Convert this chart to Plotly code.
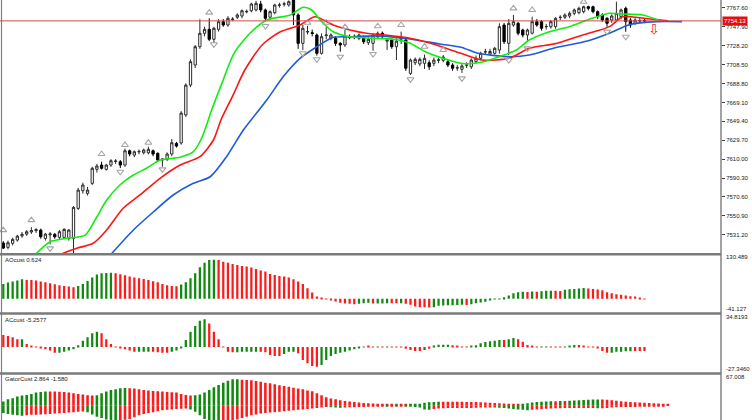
import plotly.graph_objects as go

# Price bars (bar index 0..137)
opens = [7522.5, 7518.0, 7522.2, 7525.6, 7530.0, 7531.8, 7534.0, 7535.4, 7536.0, 7527.3,
         7531.0, 7531.5, 7528.4, 7528.4, 7527.3, 7527.3, 7558.6, 7577.0, 7574.3, 7584.7,
         7599.3, 7603.8, 7599.3, 7603.8, 7607.5, 7607.3, 7603.8, 7618.7, 7614.2, 7617.5,
         7616.6, 7616.6, 7618.7, 7616.0, 7609.0, 7609.7, 7615.3, 7626.4, 7626.8, 7656.0,
         7687.2, 7708.1, 7727.2, 7741.2, 7745.3, 7734.9, 7745.3, 7753.3, 7749.8, 7755.5,
         7757.9, 7759.2, 7763.5, 7764.7, 7765.5, 7771.7, 7765.5, 7757.9, 7762.7, 7770.3,
         7771.5, 7770.7, 7778.0, 7760.3, 7730.7, 7742.5, 7741.8, 7739.4, 7720.3, 7738.8,
         7736.0, 7736.0, 7730.7, 7729.0, 7737.5, 7738.0, 7736.0, 7737.0, 7731.4, 7730.7,
         7737.6, 7741.2, 7733.0, 7734.2, 7727.2, 7735.0, 7734.2, 7699.4, 7710.5, 7709.2,
         7709.9, 7710.5, 7709.9, 7713.0, 7713.0, 7711.5, 7708.1, 7705.0, 7703.6, 7708.0,
         7706.3, 7711.6, 7715.1, 7721.7, 7719.5, 7720.3, 7723.8, 7749.8, 7730.7, 7749.8,
         7751.6, 7744.6, 7739.4, 7741.2, 7753.3, 7753.3, 7748.0, 7748.1, 7748.1, 7757.6,
         7757.9, 7759.2, 7762.0, 7762.7, 7763.7, 7768.9, 7768.9, 7763.7, 7760.3, 7756.8,
         7755.0, 7755.0, 7758.5, 7767.2, 7755.0, 7751.6, 7754.0, 7754.5]
highs = [7524.5, 7525.0, 7528.0, 7531.0, 7534.0, 7536.0, 7539.0, 7538.0, 7537.5, 7533.0,
         7534.0, 7533.0, 7536.0, 7538.0, 7537.0, 7561.0, 7580.0, 7585.5, 7581.0, 7602.0,
         7605.0, 7607.3, 7605.0, 7610.0, 7610.0, 7609.0, 7621.0, 7620.0, 7619.0, 7620.0,
         7621.0, 7623.0, 7620.0, 7617.0, 7611.0, 7617.0, 7631.0, 7628.0, 7660.0, 7689.0,
         7714.0, 7729.0, 7755.8, 7748.0, 7756.8, 7748.0, 7756.0, 7756.0, 7759.0, 7758.0,
         7762.0, 7766.0, 7766.0, 7773.0, 7775.0, 7775.0, 7767.0, 7765.0, 7772.0, 7773.0,
         7774.0, 7775.5, 7780.0, 7762.0, 7750.0, 7749.0, 7745.0, 7741.0, 7741.0, 7748.0,
         7741.0, 7738.0, 7732.0, 7744.6, 7740.0, 7740.0, 7741.0, 7739.0, 7737.0, 7741.0,
         7743.0, 7743.0, 7735.0, 7736.0, 7736.0, 7742.9, 7736.0, 7715.0, 7716.0, 7716.0,
         7719.0, 7713.0, 7716.0, 7716.0, 7718.5, 7714.0, 7710.0, 7708.0, 7709.0, 7711.0,
         7715.0, 7718.0, 7722.0, 7725.0, 7725.0, 7727.0, 7751.6, 7752.0, 7756.0, 7760.3,
         7753.0, 7746.0, 7746.0, 7758.5, 7756.0, 7755.0, 7751.0, 7755.0, 7758.0, 7760.0,
         7762.0, 7764.0, 7767.0, 7769.0, 7770.0, 7770.0, 7770.0, 7765.0, 7762.0, 7758.0,
         7761.0, 7774.1, 7767.0, 7769.0, 7757.0, 7757.0, 7758.0, 7756.0]
lows = [7516.2, 7516.0, 7520.0, 7524.0, 7528.0, 7530.0, 7532.0, 7533.0, 7527.0, 7525.0,
        7521.0, 7527.0, 7526.0, 7527.0, 7525.0, 7512.0, 7557.0, 7574.0, 7572.0, 7583.0,
        7596.0, 7599.0, 7598.0, 7602.0, 7605.0, 7600.6, 7602.0, 7613.0, 7612.0, 7615.0,
        7615.0, 7615.0, 7613.0, 7607.0, 7602.0, 7608.0, 7613.0, 7622.0, 7625.0, 7654.0,
        7685.0, 7705.0, 7725.0, 7738.0, 7733.0, 7731.0, 7743.0, 7748.0, 7748.0, 7754.0,
        7756.0, 7757.0, 7762.0, 7763.0, 7764.0, 7763.0, 7754.0, 7755.0, 7761.0, 7768.0,
        7769.0, 7769.0, 7749.8, 7725.0, 7723.7, 7740.0, 7738.0, 7718.0, 7719.0, 7735.0,
        7734.0, 7728.0, 7722.0, 7727.0, 7735.0, 7735.0, 7734.0, 7730.0, 7729.0, 7723.0,
        7736.0, 7736.0, 7723.8, 7725.0, 7713.3, 7730.0, 7702.0, 7697.7, 7708.0, 7707.0,
        7704.0, 7703.0, 7707.0, 7710.0, 7711.0, 7706.0, 7702.0, 7702.0, 7699.8, 7705.0,
        7704.0, 7710.0, 7713.0, 7719.0, 7718.0, 7719.0, 7720.0, 7730.0, 7718.5, 7748.0,
        7739.0, 7737.0, 7732.4, 7740.0, 7748.0, 7744.0, 7745.0, 7746.0, 7746.0, 7755.0,
        7756.0, 7757.0, 7760.0, 7761.0, 7762.0, 7765.0, 7762.0, 7756.0, 7753.0, 7748.0,
        7752.0, 7754.0, 7756.0, 7742.8, 7747.0, 7750.0, 7752.0, 7752.0]
closes = [7517.2, 7522.8, 7526.3, 7529.7, 7531.5, 7534.3, 7535.5, 7536.5, 7529.0, 7531.8,
          7532.0, 7529.0, 7534.3, 7536.7, 7536.0, 7559.7, 7577.7, 7583.0, 7577.7, 7600.4,
          7602.8, 7600.4, 7603.8, 7608.3, 7608.0, 7603.8, 7618.7, 7615.3, 7617.7, 7618.0,
          7619.5, 7620.2, 7615.3, 7609.0, 7610.0, 7615.3, 7627.1, 7623.6, 7658.0, 7687.2,
          7711.6, 7727.2, 7741.2, 7745.3, 7734.9, 7746.4, 7753.3, 7749.8, 7756.8, 7756.0,
          7760.3, 7764.7, 7764.0, 7771.7, 7772.4, 7765.5, 7756.8, 7763.7, 7770.7, 7770.7,
          7771.9, 7774.1, 7760.3, 7730.7, 7746.4, 7743.0, 7741.0, 7720.3, 7737.6, 7739.4,
          7739.4, 7730.7, 7729.0, 7738.4, 7737.0, 7737.6, 7739.4, 7732.4, 7734.9, 7739.4,
          7741.2, 7737.6, 7734.0, 7727.2, 7733.0, 7737.0, 7704.7, 7713.3, 7714.0, 7714.0,
          7715.1, 7706.3, 7713.3, 7713.5, 7716.4, 7708.1, 7704.7, 7705.3, 7707.1, 7708.1,
          7713.3, 7715.1, 7720.3, 7722.0, 7722.2, 7725.5, 7748.1, 7732.4, 7751.6, 7753.3,
          7741.2, 7739.4, 7744.6, 7753.3, 7749.8, 7746.4, 7748.2, 7753.3, 7756.8, 7757.9,
          7760.3, 7762.0, 7765.5, 7767.2, 7768.9, 7767.2, 7763.7, 7758.5, 7755.0, 7751.6,
          7759.2, 7762.0, 7765.5, 7753.3, 7749.8, 7755.0, 7754.3, 7754.13]
bars = list(range(len(closes)))
last_price = 7754.13

# Fractals
frac_up_x = [0, 6, 21, 26, 31, 44, 65, 69, 73, 80, 85, 90, 94, 109, 113, 124]
frac_up_y = [7536.0, 7546.4, 7615.3, 7624.7, 7627.1, 7762.7, 7752.2, 7752.2, 7747.7, 7748.5,
             7749.8, 7727.2, 7723.8, 7767.2, 7765.5, 7774.0]
frac_dn_x = [10, 25, 34, 45, 56, 64, 67, 72, 79, 87, 98, 108, 112, 129, 133]
frac_dn_y = [7516.9, 7596.8, 7599.3, 7729.7, 7748.8, 7720.3, 7714.1, 7716.8, 7719.6, 7693.2,
             7694.2, 7713.3, 7725.5, 7742.9, 7737.6]

# Alligator lines (bar position, value)
jaw_x = [20, 23.2, 27.8, 32.1, 36.3, 40.6, 44.2, 47.7, 51.3, 56.3, 59.8, 63.4, 67.0, 70.5,
         74.1, 80.1, 86.9, 93.3, 98.0, 101.2, 108.1, 112.4, 118.1, 124.8, 129.5, 133.9, 139.6, 145]
jaw_y = [7494.0, 7511.8, 7536.1, 7555.1, 7572.6, 7584.8, 7591.6, 7612.5, 7640.3, 7671.6,
         7695.9, 7715.1, 7727.2, 7737.0, 7737.6, 7738.5, 7735.2, 7730.0, 7726.4, 7720.6,
         7716.8, 7718.5, 7726.4, 7733.1, 7741.2, 7750.4, 7753.3, 7753.3]
teeth_x = [10, 12.8, 15.7, 19.2, 22.1, 25.6, 29.2, 33.5, 37.8, 42.0, 44.9, 46.5, 49.1, 51.6,
           55.3, 59.1, 63.4, 66.6, 70.5, 74.1, 77.6, 81.6, 86.9, 91.8, 97.6, 102.3, 108.1,
           112.4, 118.1, 123.8, 129.5, 132.3, 135.2, 138.7, 142]
teeth_y = [7505.0, 7511.8, 7517.0, 7522.2, 7536.1, 7558.7, 7572.6, 7590.0, 7603.8, 7612.5,
           7629.9, 7650.8, 7676.8, 7702.9, 7729.0, 7742.5, 7749.8, 7758.5, 7749.8, 7744.6,
           7741.2, 7739.4, 7736.0, 7730.0, 7720.6, 7713.3, 7715.1, 7725.5, 7730.5, 7739.4,
           7748.1, 7758.5, 7757.9, 7755.8, 7754.3]
lips_x = [5, 7.1, 10.0, 13.5, 17.5, 20.0, 22.1, 24.9, 27.8, 30.6, 33.5, 37.8, 40.6, 42.4,
          44.5, 46.7, 49.3, 52.7, 56.3, 61.3, 64.1, 65.9, 67.7, 70.5, 74.1, 77.9, 83.9, 86.8,
          90.3, 93.9, 98.2, 102.4, 106.0, 109.6, 112.4, 116.7, 120.9, 125.2, 129.5, 132.4,
          136.6, 140]
lips_y = [7500.0, 7511.8, 7523.9, 7527.4, 7530.8, 7549.9, 7567.3, 7583.0, 7593.4, 7600.4,
          7609.0, 7611.9, 7617.7, 7632.0, 7661.0, 7689.0, 7720.3, 7741.2, 7755.0, 7760.3,
          7768.3, 7765.5, 7755.0, 7742.8, 7737.6, 7736.3, 7734.7, 7731.1, 7721.7, 7715.1,
          7709.7, 7711.2, 7716.8, 7723.8, 7734.2, 7742.8, 7748.1, 7755.8, 7762.0, 7761.3,
          7760.3, 7755.0]
sell_x = [139]
sell_y = [7743.6]

price_ticks = [7767.60, 7747.90, 7728.20, 7708.50, 7688.80, 7669.10, 7649.40,
               7629.70, 7610.00, 7590.30, 7570.60, 7550.90, 7531.20]

# AOcust
ao_vals = [45, 49, 52, 55, 59, 57, 57, 55, 52, 50,
           47, 44, 41, 39, 37, 35, 39, 45, 54, 64,
           73, 77, 78, 78.5, 77, 74, 71, 67, 64, 62,
           60, 57, 53, 50, 45, 41, 39, 38, 43, 50,
           62, 77, 95, 109, 117, 118, 117, 112, 109, 105,
           102, 99, 97, 94, 90, 85, 82, 75, 72, 69,
           67, 64, 59, 52, 45, 32, 19, 7, 1.5, -1,
           -5, -8, -12, -14, -15, -16, -15, -13, -12, -14,
           -14, -14, -13, -13, -13.5, -13, -15, -18, -23, -25,
           -25.5, -26, -25, -21, -20, -19.5, -19, -18.5, -18, -18.5,
           -16, -13, -11, -9, -4, -2, 1, 5, 10, 17,
           20, 21, 20.5, 22, 21.5, 23, 24, 24.5, 24, 23.5,
           27, 29, 30, 31, 33, 31, 30, 28, 26, 20,
           17, 14, 12, 10, 8, 7, 4, 1]
ao_cols = ("GGGGGRRRRR" "RRRRRRGGGG" "GGGGRRRRRR" "RRRRRRRRGG" "GGGGGGRRRR"
           "RRRRRRRRRR" "RRRRRRRRRR" "RRRRRRGGGR" "GGGRRGRRRR" "RRGGGGGGGR"
           "GGGGGGGGGG" "GGRGRGGGRR" "GGGGGRRRRR" "RRRRRRRR")

# ACcust
ac_vals = [12.9, 11.8, 10.4, 8.2, 8.2, 3.2, 1.1, -0.4, -1.4, -2.5,
           -3.9, -6.1, -6.1, -5.0, -3.9, -2.5, 1.8, 6.8, 10.4, 14.6,
           16.4, 14.6, 8.2, 3.2, 0.4, -0.7, -2.5, -3.9, -5.0, -5.0,
           -5.0, -5.0, -5.0, -5.7, -6.1, -6.1, -5.0, -3.9, -0.7, 7.5,
           16.4, 22.5, 28.2, 29.6, 25.3, 16.4, 8.2, 0.4, -5.0, -5.7,
           -5.7, -5.0, -5.0, -5.0, -5.0, -5.0, -5.7, -8.6, -9.6, -9.6,
           -7.5, -5.0, -5.0, -6.8, -13.9, -17.5, -20.3, -21.1, -19.3, -13.9,
           -9.6, -7.5, -6.1, -5.0, -3.9, -2.5, -0.7, 0.4, 0.7, -0.4,
           0.3, -0.2, 0.2, -0.2, -0.3, -0.4, -1.8, -3.2, -4.3, -4.3,
           -3.2, -1.8, 0.7, 2.5, 2.5, 2.5, 1.8, 1.1, -0.2, -0.2,
           0.7, 1.8, 3.9, 5.4, 6.1, 6.8, 7.5, 7.5, 8.2, 9.6,
           8.2, 5.7, 2.1, 1.4, 0.2, 0.2, 0.2, -0.2, -0.2, -0.2,
           0.2, 0.7, 2.1, 2.1, 0.7, 0.2, -0.2, -1.4, -4.3, -6.1,
           -6.1, -5.0, -5.0, -4.6, -4.6, -4.3, -4.3, -4.3]
ac_cols = ("RRRRGRRRRR" "RRGGGGGGGG" "GRRRRRRRRG" "GGRRRRGGGG" "GGGGRRRRRR"
           "GGGGGRRRRR" "GGGRRRRRGG" "GGGGGGGRRR" "GRGRRRRRRR" "GRGGGGRRRR"
           "GGGGGGGRGG" "RRRRRGGRRR" "GGGRRRRRRR" "GGGGGRRR")

# GatorCust (upper and lower histograms, bar index 0..142)
gator_up = [8.1, 13.2, 15.4, 19.1, 21.3, 22.7, 24.9, 27.9, 29.3, 30.1,
            30.1, 30.1, 30.0, 29.3, 27.9, 26.4, 24.9, 23.5, 22.0, 21.3,
            22.0, 26.4, 30.1, 33.7, 35.2, 37.4, 38.1, 37.4, 36.7, 35.2,
            33.7, 32.3, 31.5, 30.8, 30.1, 29.3, 28.6, 27.9, 24.9, 22.7,
            21.3, 22.0, 23.5, 27.9, 33.7, 39.6, 44.7, 49.8, 54.2, 57.2,
            57.3, 56.4, 55.7, 55.0, 53.5, 52.0, 49.8, 48.4, 46.2, 44.0,
            42.5, 41.0, 38.8, 36.7, 35.2, 32.3, 30.8, 26.4, 22.0, 17.6,
            14.7, 13.2, 11.0, 9.5, 8.1, 7.3, 5.9, 5.1, 4.4, 3.7,
            2.5, 2.5, 2.0, 2.0, 2.5, 2.0, 1.8, 2.5, 3.0, 3.5,
            5.5, 6.5, 7.5, 8.0, 7.9, 7.8, 7.8, 7.7, 7.6, 7.5,
            7.4, 7.0, 6.5, 6.0, 5.5, 5.0, 4.5, 4.0, 3.5, 3.0,
            2.8, 3.5, 4.5, 6.0, 7.0, 8.0, 8.5, 9.0, 8.8, 9.5,
            9.3, 10.0, 10.5, 11.0, 11.5, 12.0, 12.5, 13.0, 12.5, 12.0,
            11.0, 10.0, 9.0, 8.0, 7.0, 6.5, 6.0, 5.5, 5.0, 4.5,
            4.0, 3.5, 3.0]
gator_dn = [-17, -19, -21, -22, -23, -22, -21, -20.5, -20, -19.5,
            -19, -18, -17.5, -17, -16, -15, -14, -13.5, -15, -20,
            -25, -28, -31, -33, -34, -33, -32, -30, -26, -22,
            -19, -17, -15, -13, -11, -10, -9, -8, -7.5, -7,
            -9, -14, -22, -30, -35, -38, -39, -38, -36, -34,
            -31, -28, -25, -22, -20, -18, -17, -16, -15, -14,
            -13, -12, -11, -10, -9, -8, -7, -6, -5, -4,
            -4.5, -5, -5.5, -5, -4.5, -4.2, -4, -3.5, -3, -2.5,
            -2, -2, -2.5, -2.5, -2, -2, -2.5, -3, -4, -5,
            -9, -10, -8, -7, -6.5, -6, -6, -6, -6, -6,
            -6, -5.5, -5, -5, -5, -5, -5.5, -6, -7, -8,
            -9, -10, -11, -10, -9, -8, -7.5, -7, -6.5, -6.5,
            -6, -6, -6, -6, -6, -6, -6, -6.5, -6.5, -6,
            -5, -4.5, -4, -4, -3.5, -3.5, -3, -3, -2.5, -2,
            -2, -1.5, -1]
gator_up_cols = ("GGGGGGGGGG" "RRRRRRRRRR" "GGGGGGGRRR" "RRRRRRRRRR" "RGGGGGGGGG"
                 "GRRRRRRRRR" "RRRRRRRRRR" "RRRRRRRRRR" "RRRRGRRGGG" "GGGGRRRRRR"
                 "RRRRRRRRRR" "RGGGGGGGRG" "RGGGGGGGRR" "RRRRRRRRRR" "RRR")
gator_dn_cols = ("GGGGGRRRRR" "RRRRRRRRGG" "GGGGGRRRRR" "RRRRRRRRRR" "GGGGGGGRRR"
                 "RRRRRRRRRR" "RRRRRRRRRR" "GGGRRRRRRR" "RRGRRRGGGG" "GGRRRRRRRR"
                 "RRRRRRGGGG" "GGGRRRRRRR" "RRRRRRRGRR" "RRRRRRRRRR" "RRR")
gator_bars = list(range(len(gator_up)))

GREEN = "#0f8a0f"
RED = "#ff1a1a"
col = {"G": GREEN, "R": RED}

# page geometry (px) for a 752x420 window
W, H = 752, 420
axis_x = 721 / W

fig = go.Figure()

fig.add_trace(go.Candlestick(
    x=bars, open=opens, high=highs, low=lows, close=closes,
    increasing=dict(line=dict(color="#2a2a2a", width=1), fillcolor="white"),
    decreasing=dict(line=dict(color="#000000", width=1), fillcolor="black"),
    whiskerwidth=0, hoverinfo="skip"))

fig.add_trace(go.Scatter(x=jaw_x, y=jaw_y, mode="lines",
                         line=dict(color="#1f5ad8", width=1.6, shape="spline", smoothing=0.7)))
fig.add_trace(go.Scatter(x=teeth_x, y=teeth_y, mode="lines",
                         line=dict(color="#ff1414", width=1.6, shape="spline", smoothing=0.7)))
fig.add_trace(go.Scatter(x=lips_x, y=lips_y, mode="lines",
                         line=dict(color="#10ee10", width=1.6, shape="spline", smoothing=0.7)))

# fractal arrows
fig.add_trace(go.Scatter(x=frac_up_x, y=frac_up_y, mode="markers",
                         marker=dict(symbol="triangle-up-open", size=6, color="#a5a5a5",
                                     line=dict(width=1.1))))
fig.add_trace(go.Scatter(x=frac_dn_x, y=frac_dn_y, mode="markers",
                         marker=dict(symbol="triangle-down-open", size=6, color="#a5a5a5",
                                     line=dict(width=1.1))))
fig.add_trace(go.Scatter(x=sell_x, y=sell_y, mode="text", text=["\u21e9"],
                         textfont=dict(color="#ff2020", size=14, family="DejaVu Sans")))

fig.add_trace(go.Bar(x=bars, y=ao_vals, marker_color=[col[c] for c in ao_cols],
                     marker_line_width=0, width=0.48, yaxis="y2"))
fig.add_trace(go.Bar(x=bars, y=ac_vals, marker_color=[col[c] for c in ac_cols],
                     marker_line_width=0, width=0.48, yaxis="y3"))
fig.add_trace(go.Bar(x=gator_bars, y=gator_up, marker_color=[col[c] for c in gator_up_cols],
                     marker_line_width=0, width=0.55, yaxis="y4"))
fig.add_trace(go.Bar(x=gator_bars, y=gator_dn, marker_color=[col[c] for c in gator_dn_cols],
                     marker_line_width=0, width=0.55, yaxis="y4"))

small = dict(family="Liberation Sans", size=6, color="#202020")

fig.update_layout(
    width=W, height=H, margin=dict(l=0, r=0, t=0, b=0),
    paper_bgcolor="white", plot_bgcolor="white",
    showlegend=False, barmode="overlay", hovermode=False,
    xaxis=dict(domain=[0, axis_x], range=[-0.705, 153.35], visible=False,
               rangeslider=dict(visible=False), fixedrange=True),
    yaxis=dict(domain=[1 - 253 / H, 1], range=[7512.1, 7775.9], side="right",
               tickvals=price_ticks, ticktext=[f"{v:.2f}" for v in price_ticks],
               ticks="outside", ticklen=3, tickcolor="#404040",
               showgrid=False, zeroline=False, showline=False, tickfont=small),
    yaxis2=dict(domain=[1 - 312.5 / H, 1 - 255.5 / H], range=[-41.127, 130.489],
                visible=False, anchor="x"),
    yaxis3=dict(domain=[1 - 372.5 / H, 1 - 314.5 / H], range=[-27.346, 34.8193],
                visible=False, anchor="x"),
    yaxis4=dict(domain=[0, 1 - 374.8 / H], range=[-32.3, 67.008],
                visible=False, anchor="x"),
)

# frame, axis line and window separators
fig.add_shape(type="line", xref="paper", yref="paper", x0=axis_x, x1=axis_x, y0=0, y1=1,
              line=dict(color="#707070", width=1.3))
fig.add_shape(type="line", xref="paper", yref="paper", x0=1.5 / W, x1=1.5 / W, y0=0, y1=1,
              line=dict(color="#808080", width=1.2))
for sep in [254.2, 313.5, 373.6]:
    fig.add_shape(type="line", xref="paper", yref="paper", x0=0, x1=axis_x,
                  y0=1 - sep / H, y1=1 - sep / H, line=dict(color="#7a7a7a", width=2.5))

# current price line and label
fig.add_shape(type="line", xref="paper", yref="y", x0=0, x1=axis_x,
              y0=last_price, y1=last_price, line=dict(color="#d84848", width=1))
fig.add_annotation(xref="paper", yref="y", x=axis_x + 1 / W, y=last_price, text=f"{last_price:.2f}",
                   showarrow=False, xanchor="left", yanchor="middle", bgcolor="#e01010",
                   borderpad=1, font=dict(family="Liberation Sans", size=6, color="white"))

# indicator window captions
captions = [("AOcust 0.624", 260), ("ACcust -5.2577", 320), ("GatorCust 2.864 -1.580", 379.3)]
for txt, ypx in captions:
    fig.add_annotation(xref="paper", yref="paper", x=3 / W, y=1 - ypx / H, text=txt,
                       showarrow=False, xanchor="left", yanchor="middle", font=small)

# indicator window scale labels
scale_labels = [("130.489", 257.3), ("-41.127", 309.3), ("34.8193", 317.3),
                ("-27.3460", 369.3), ("67.008", 377.3)]
for txt, ypx in scale_labels:
    fig.add_annotation(xref="paper", yref="paper", x=724 / W, y=1 - ypx / H, text=txt,
                       showarrow=False, xanchor="left", yanchor="middle", font=small)

# the page body has a default 8px margin; drop it so the 752x420 figure fills the window
fig.write_html("out.html", config={"displayModeBar": False},
               post_script="document.body.style.margin='0';")
